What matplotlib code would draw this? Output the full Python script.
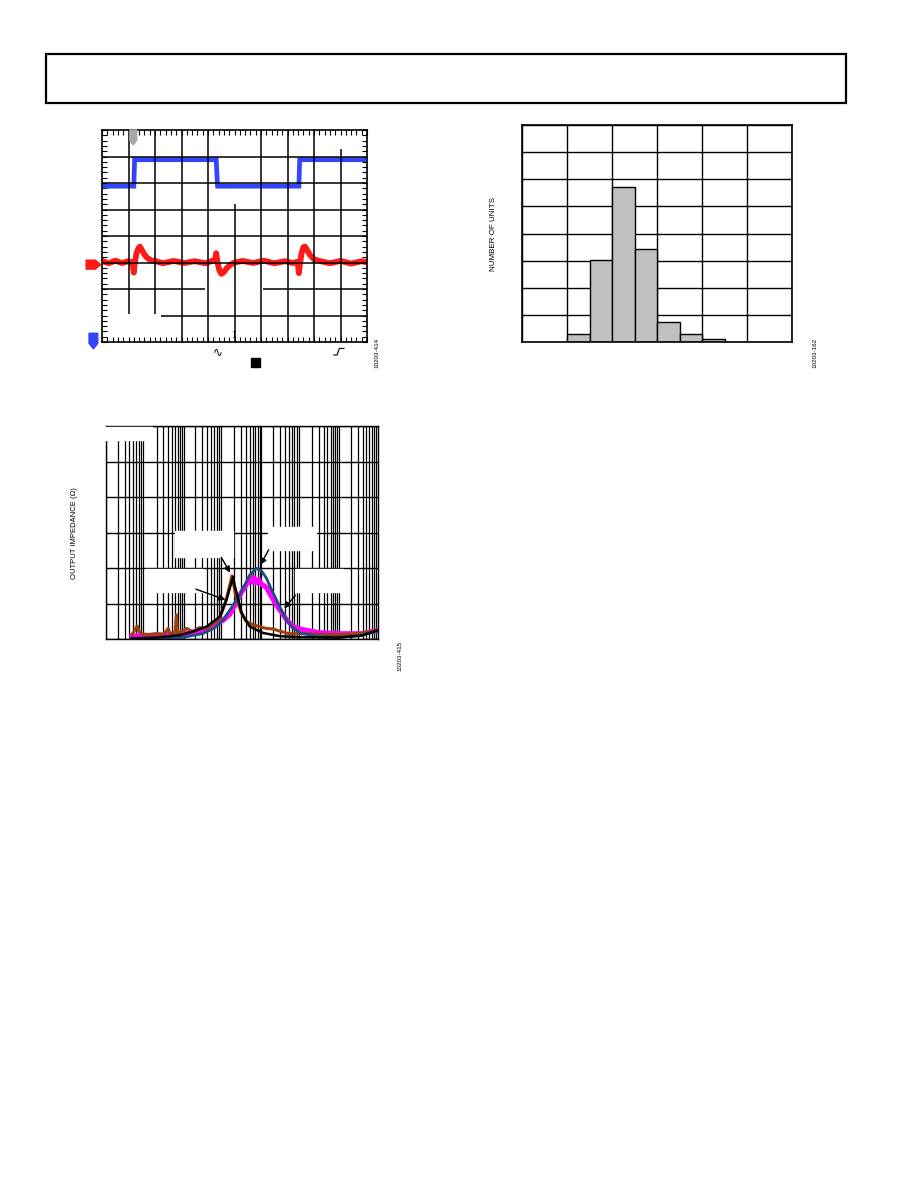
import matplotlib.pyplot as plt
from matplotlib.patches import Rectangle, Polygon
import numpy as np

plt.rcParams['font.family'] = ['Liberation Sans', 'DejaVu Sans']

W, H = 918, 1188
fig = plt.figure(figsize=(W / 100, H / 100), dpi=100)


def px_axes(l, t, r, b):
    return fig.add_axes([l / W, 1 - b / H, (r - l) / W, (b - t) / H])


# ---------------- data ----------------
# scope screen (divisions): blue = logic input, red = output ripple
blue_t = [0.0, 1.2, 1.23, 4.31, 4.36, 7.43, 7.46, 10.0]
blue_v = [5.88, 5.88, 6.88, 6.88, 5.88, 5.88, 6.88, 6.88]

red_t = [0.0, 0.25, 0.5, 0.75, 1.0, 1.15, 1.2, 1.23, 1.3, 1.38,
         1.43, 1.5, 1.6, 1.7, 1.85, 2.0, 2.3, 2.7, 3.1, 3.5,
         3.9, 4.15, 4.27, 4.31, 4.36, 4.43, 4.5, 4.58, 4.7, 4.85,
         5.0, 5.3, 5.7, 6.1, 6.5, 6.9, 7.2, 7.38, 7.43, 7.47,
         7.53, 7.6, 7.66, 7.75, 7.85, 8.0, 8.2, 8.6, 9.0, 9.4,
         9.8, 10.0]
red_v = [3.06, 2.97, 3.07, 2.98, 3.05, 3.0, 2.62, 2.95, 3.35, 3.55,
         3.6, 3.48, 3.3, 3.18, 3.08, 3.06, 2.97, 3.06, 2.98, 3.05,
         2.97, 3.06, 3.1, 3.35, 3.0, 2.7, 2.57, 2.62, 2.78, 2.92,
         3.0, 3.06, 2.98, 3.07, 2.97, 3.05, 2.98, 3.03, 2.6, 2.95,
         3.35, 3.58, 3.6, 3.45, 3.28, 3.12, 3.06, 2.97, 3.06, 2.96,
         3.05, 3.0]

# histogram (grid units)
bin_left = [1.0, 1.5, 2.0, 2.5, 3.0, 3.5, 4.0]
bin_count = [0.31, 3.01, 5.73, 3.42, 0.72, 0.31, 0.12]

# output impedance vs frequency
f_black = [46, 200, 800, 1750, 3900, 8500, 12600, 16000, 18700, 20500,
           23000, 31000, 50000, 110000, 300000, 1e6, 1e7, 4e7, 1e8]
z_black = [0.02, 0.04, 0.11, 0.21, 0.35, 0.63, 1.1, 1.5, 1.75, 1.5,
           1.3, 0.73, 0.35, 0.17, 0.08, 0.05, 0.04, 0.1, 0.25]

f_blue = [46, 300, 1000, 3000, 6000, 10000, 15500, 27500, 50000, 74000,
          100000, 135000, 180000, 245000, 330000, 437000, 650000, 980000,
          3e6, 1e7, 3e7, 1e8]
z_blue = [0.01, 0.02, 0.05, 0.15, 0.3, 0.52, 0.82, 1.24, 1.8, 1.99,
          1.92, 1.71, 1.4, 1.1, 0.8, 0.54, 0.32, 0.17,
          0.07, 0.05, 0.09, 0.22]

f_mag = [46, 100, 300, 1000, 3000, 7000, 11000, 15500, 22000, 30000,
         45000, 55000, 60000, 65000, 75000, 85000, 100000, 135000, 180000,
         245000, 330000, 437000, 650000, 1e6, 3e6, 1e7, 4e7, 1e8]
z_mag = [0.08, 0.1, 0.12, 0.15, 0.25, 0.42, 0.55, 0.7, 1.0, 1.3,
         1.6, 1.75, 1.6, 1.72, 1.58, 1.68, 1.55, 1.45, 1.2,
         0.95, 0.75, 0.55, 0.35, 0.28, 0.18, 0.15, 0.15, 0.25]

f_brown = [46, 55, 63, 72, 90, 130, 200, 300, 400, 450,
           600, 650, 700, 900, 1200, 1700, 2500, 4000, 6000, 8000,
           10000, 13000, 16000, 17400, 19500, 22000, 30000, 40000, 55000, 70000,
           90000, 130000, 200000, 300000, 500000, 1e6, 3e6, 1e7, 3e7, 1e8]
z_brown = [0.12, 0.25, 0.37, 0.2, 0.14, 0.12, 0.15, 0.12, 0.3, 0.13,
           0.2, 0.68, 0.15, 0.22, 0.3, 0.2, 0.32, 0.3, 0.45, 0.55,
           0.8, 1.2, 1.6, 1.78, 1.5, 1.2, 0.75, 0.5, 0.42, 0.38,
           0.35, 0.3, 0.28, 0.22, 0.15, 0.15, 0.13, 0.12, 0.15, 0.25]

# ---------------- page header box ----------------
fig.patches.append(Rectangle((46 / W, 1 - 103 / H), 800 / W, 49 / H,
                             transform=fig.transFigure, fill=False,
                             lw=1.6, ec='black'))

# ---------------- scope capture ----------------
ax1 = px_axes(102, 130, 367, 342)
ax1.set_xlim(0, 10)
ax1.set_ylim(0, 8)
ax1.set_xticks([])
ax1.set_yticks([])
ax1.set_xticks(np.arange(0, 10.01, 0.2), minor=True)
ax1.set_yticks(np.arange(0, 8.01, 0.2), minor=True)
ax1.tick_params(which='minor', direction='in', length=3.5, width=0.8,
                top=True, right=True, labelbottom=False, labelleft=False)
for s in ax1.spines.values():
    s.set_linewidth(1.2)

ax1.plot(blue_t, blue_v, color='#3344FF', lw=3.4, zorder=2, solid_joinstyle='miter')
ax1.plot(red_t, red_v, color='#FF1A1A', lw=4.2, zorder=2)

gk = dict(color='black', lw=1.1, zorder=3)
ax1.vlines([1, 2], 1.07, 8, **gk)
ax1.vlines([3, 4, 6, 7, 8], 0, 8, **gk)
ax1.vlines(5, 0, 5.2, **gk)
ax1.vlines(9, 0, 7.3, **gk)
ax1.hlines([3, 4, 5, 6, 7], 0, 10, **gk)
ax1.hlines(2, 0, 3.87, **gk)
ax1.hlines(2, 6.08, 10, **gk)
ax1.hlines(1, 2.21, 10, **gk)

# channel markers
ax1.add_patch(Polygon([(1.05, 8.0), (1.31, 8.0), (1.31, 7.62), (1.18, 7.43), (1.05, 7.62)],
                      closed=True, color='#A8A8A8', clip_on=False, zorder=4))
ax1.add_patch(Polygon([(-0.6, 3.09), (-0.25, 3.09), (-0.05, 2.92), (-0.25, 2.75), (-0.6, 2.75)],
                      closed=True, color='#FF1A1A', clip_on=False, zorder=4))
ax1.add_patch(Polygon([(-0.49, 0.33), (-0.16, 0.33), (-0.16, -0.05), (-0.32, -0.26), (-0.49, -0.05)],
                      closed=True, color='#3344FF', clip_on=False, zorder=4))
# trigger mark, symbols
ax1.vlines(4.98, 0.2, 0.42, color='black', lw=0.7, clip_on=False)
ax1.hlines([0.2, 0.42], 4.94, 5.02, color='black', lw=0.7, clip_on=False)
ax1.text(4.37, -0.36, '\u223f', fontsize=8.5, ha='center', va='center',
         family=['DejaVu Sans'])
ax1.plot([8.75, 8.87, 8.96, 9.13], [-0.49, -0.49, -0.24, -0.24],
         color='black', lw=0.8, clip_on=False)
ax1.add_patch(Rectangle((5.61, -0.96), 0.35, 0.34, color='black', clip_on=False))

fig.text(377 / W, 1 - 353 / H, '10203-414', rotation=90, fontsize=4.5,
         ha='center', va='center')

# ---------------- histogram ----------------
ax2 = px_axes(522, 125, 792, 342)
ax2.set_xlim(0, 6)
ax2.set_ylim(0, 8)
ax2.set_xticks(range(7))
ax2.set_yticks(range(9))
ax2.tick_params(which='both', length=0, labelbottom=False, labelleft=False)
ax2.grid(True, color='black', lw=1.0)
ax2.set_axisbelow(True)
ax2.bar(bin_left, bin_count, width=0.5, align='edge', color='#C0C0C0',
        edgecolor='black', lw=1.0, zorder=2)
for s in ax2.spines.values():
    s.set_linewidth(1.2)
    s.set_zorder(3)
fig.text(493.5 / W, 1 - 234 / H, 'NUMBER OF UNITS', rotation=90, fontsize=5.8,
         ha='center', va='center')
fig.text(815 / W, 1 - 353 / H, '10203-162', rotation=90, fontsize=4.5,
         ha='center', va='center')

# ---------------- output impedance ----------------
ax3 = px_axes(106, 426, 378, 639)
ax3.set_xscale('log')
ax3.set_xlim(10, 1e8)
ax3.set_ylim(0, 6)
ax3.set_yticks(range(7))
ax3.xaxis.set_minor_locator(plt.matplotlib.ticker.LogLocator(base=10, subs=range(2, 10), numticks=20))
ax3.xaxis.set_minor_formatter(plt.NullFormatter())
ax3.tick_params(which='both', length=0, labelbottom=False, labelleft=False)
ax3.grid(True, which='both', axis='x', color='black', lw=0.9)
ax3.grid(True, which='major', axis='y', color='black', lw=1.0)
ax3.set_axisbelow(True)
for s in ax3.spines.values():
    s.set_linewidth(1.0)

# blank label boxes (text not rendered in source)
for (x0, x1, y0, y1) in [(589, 18200, 2.3, 3.05), (100, 3160, 1.32, 1.98),
                         (148000, 2.6e6, 2.5, 3.16), (720000, 1.23e7, 1.32, 1.98)]:
    ax3.add_patch(Rectangle((x0, y0), x1 - x0, y1 - y0, color='white', zorder=1))
ax3.add_patch(Rectangle((8.9, 5.6), 141, 0.375, color='white', zorder=3, clip_on=False))

ax3.plot(f_mag, z_mag, color='#FF00FF', lw=3.6, zorder=2)
ax3.plot(f_brown, z_brown, color='#A0400A', lw=2.2, zorder=2.1)
ax3.plot(f_blue, z_blue, color='#1F4E82', lw=2.0, zorder=2.2)
ax3.plot(f_black, z_black, color='black', lw=1.8, zorder=2.3)

ap = dict(arrowstyle='-|>', color='black', lw=1.0, mutation_scale=9)
ax3.annotate('', xy=(17000, 1.8), xytext=(8500, 2.37), arrowprops=ap, zorder=4)
ax3.annotate('', xy=(13800, 1.08), xytext=(1760, 1.43), arrowprops=ap, zorder=4)
ax3.annotate('', xy=(87000, 2.02), xytext=(166000, 2.58), arrowprops=ap, zorder=4)
ax3.annotate('', xy=(347000, 0.8), xytext=(832000, 1.29), arrowprops=ap, zorder=4)

fig.text(75 / W, 1 - 533 / H, 'OUTPUT IMPEDANCE (\u03a9)', rotation=90, fontsize=5.5,
         ha='center', va='center')
fig.text(400 / W, 1 - 656 / H, '10203-415', rotation=90, fontsize=4.5,
         ha='center', va='center')

fig.savefig('out.png', dpi=100)
